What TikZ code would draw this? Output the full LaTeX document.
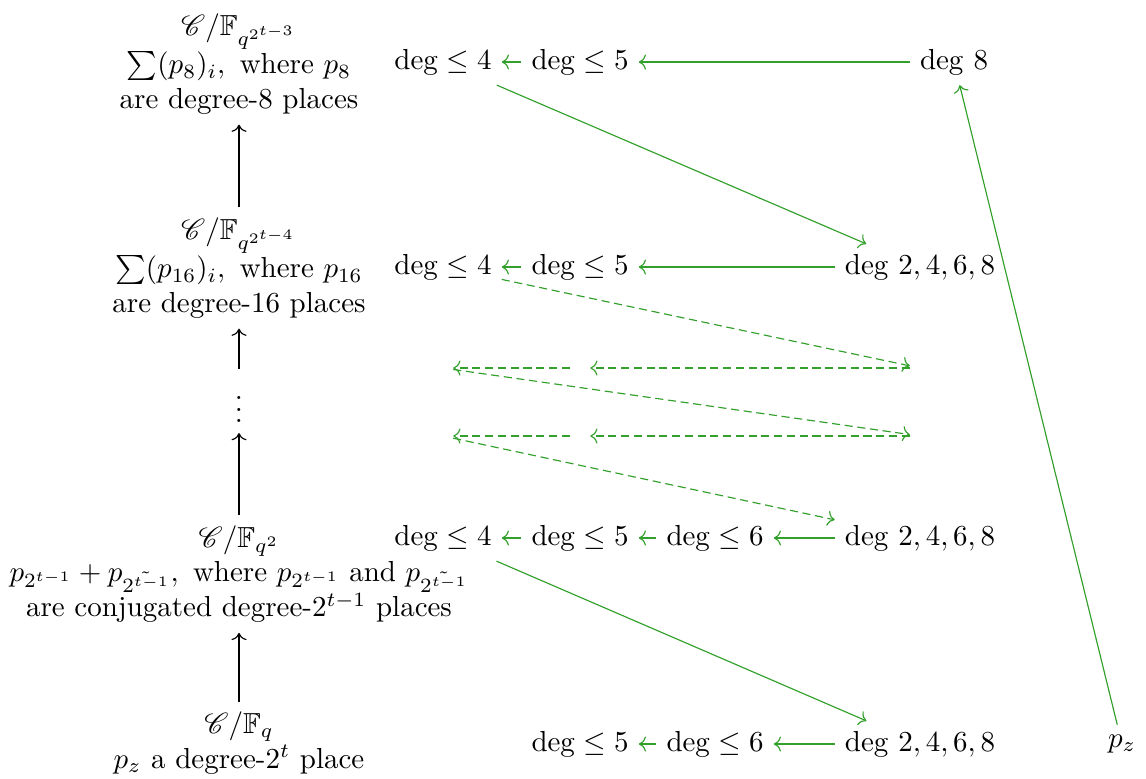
\documentclass[tikz,border=0pt]{standalone}
\usepackage{amsmath}
\usepackage{amssymb}
\usepackage{mathrsfs}
\usepackage[dvipsnames]{xcolor}
\usetikzlibrary{arrows.meta}

\definecolor{mapgreen}{RGB}{51,160,44}

\begin{document}
\begin{tikzpicture}[
    x=0.345pt, y=-0.345pt,
    >=To,
    fld/.style={align=center},
    hole/.style={inner sep=.3333em},
    gar/.style={->, draw=mapgreen},
    gdash/.style={gar, dash pattern=on 2.8pt off 1.6pt},
  ]
    \useasboundingbox (0,0) rectangle (1146,778);

    \node[fld] (f1) at (239,64) {$\mathscr{C}/\mathbb{F}_{q^{2^{t-3}}}$\\$\sum(p_8)_i,\text{ where }p_8$\\are degree-8 places};
    \node[fld] (f2) at (239,268) {$\mathscr{C}/\mathbb{F}_{q^{2^{t-4}}}$\\$\sum(p_{16})_i,\text{ where }p_{16}$\\are degree-16 places};
    \node (vd) at (239,401) {$\vdots$};
    \node[fld] (f3) at (239,574) {$\mathscr{C}/\mathbb{F}_{q^2}$\\$p_{2^{t-1}}+p_{\tilde{2^{t-1}}},\text{ where }p_{2^{t-1}}\text{ and }p_{\tilde{2^{t-1}}}$\\are conjugated degree-$2^{t-1}$ places};
    \node[fld] (f4) at (239,743) {$\mathscr{C}/\mathbb{F}_q$\\$p_z$ a degree-$2^t$ place};

    \draw[->] (f2) -- (f1);
    \draw[->] (vd) -- (f2);
    \draw[->] (f3) -- (vd);
    \draw[->] (f4) -- (f3);

    \node (a1) at (443,62) {$\deg\leq 4$};
    \node (b1) at (580,62) {$\deg\leq 5$};
    \node (h1) at (954,62) {$\deg\,8$};

    \node (a2) at (443,267) {$\deg\leq 4$};
    \node (b2) at (580,267) {$\deg\leq 5$};
    \node (d2) at (920,267) {$\deg\,2,4,6,8$};

    \node[hole] (e3a) at (443,368) {};
    \node[hole] (e3b) at (580,368) {};
    \node[hole] (e3d) at (920,368) {};
    \node[hole] (e4a) at (443,436) {};
    \node[hole] (e4b) at (580,436) {};
    \node[hole] (e4d) at (920,436) {};

    \node (a5) at (443,538) {$\deg\leq 4$};
    \node (b5) at (580,538) {$\deg\leq 5$};
    \node (c5) at (715,538) {$\deg\leq 6$};
    \node (d5) at (920,538) {$\deg\,2,4,6,8$};

    \node (b6) at (580,744) {$\deg\leq 5$};
    \node (c6) at (715,744) {$\deg\leq 6$};
    \node (d6) at (920,744) {$\deg\,2,4,6,8$};
    \node (pz) at (1122,744) {$p_z$};

    \draw[gar] (b1) -- (a1);
    \draw[gar] (h1) -- (b1);
    \draw[gar] (a1) -- (d2);
    \draw[gar] (pz) -- (h1);

    \draw[gar] (b2) -- (a2);
    \draw[gar] (d2) -- (b2);
    \draw[gdash] (a2) -- (e3d);

    \draw[gdash] (e3d) -- (e3b);
    \draw[gdash] (e3b) -- (e3a);
    \draw[gdash] (e3a) -- (e4d);
    \draw[gdash] (e4d) -- (e4b);
    \draw[gdash] (e4b) -- (e4a);
    \draw[gdash] (e4a) -- (d5);

    \draw[gar] (b5) -- (a5);
    \draw[gar] (c5) -- (b5);
    \draw[gar] (d5) -- (c5);
    \draw[gar] (a5) -- (d6);

    \draw[gar] (c6) -- (b6);
    \draw[gar] (d6) -- (c6);
\end{tikzpicture}
\end{document}
